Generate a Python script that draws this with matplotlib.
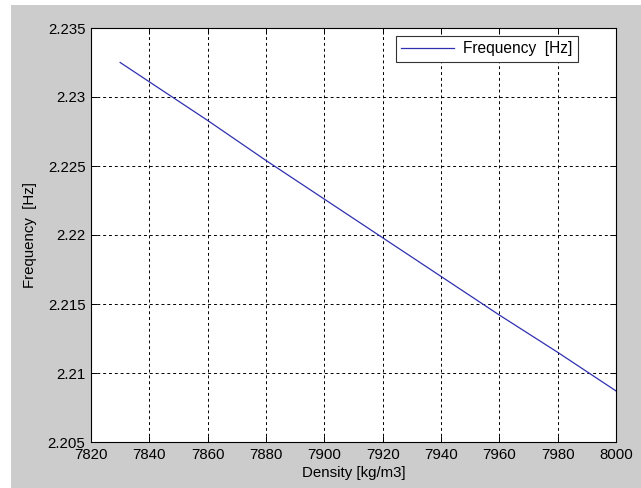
import matplotlib.pyplot as plt
from matplotlib.patches import Rectangle
from matplotlib.ticker import FixedLocator, FixedFormatter

# values
density = [7830, 7840, 7860, 7880, 7900, 7920, 7940, 7960, 7980, 8000]
frequency = [2.2325, 2.2311, 2.2283, 2.2254, 2.2226, 2.2198, 2.2170, 2.2142, 2.2115, 2.2087]

x_ticks = [7820, 7840, 7860, 7880, 7900, 7920, 7940, 7960, 7980, 8000]
y_ticks = [2.205, 2.21, 2.215, 2.22, 2.225, 2.23, 2.235]
y_tick_labels = ["2.205", "2.21", "2.215", "2.22", "2.225", "2.23", "2.235"]

plt.rcParams['font.family'] = ['Liberation Sans', 'DejaVu Sans']

W, H = 641, 488
fig = plt.figure(figsize=(W / 100, H / 100), dpi=100, facecolor='white')
# gray MATLAB-style figure area with a thin white margin
fig.patches.append(Rectangle((11 / W, 0), 1 - 11 / W, 1 - 5 / H,
                             transform=fig.transFigure, facecolor='#cccccc',
                             edgecolor='none', zorder=-10))

ax = fig.add_axes([91 / W, 46 / H, 525 / W, 414 / H])
ax.set_facecolor('white')

ax.plot(density, frequency, color='#3030b0', linewidth=0.9, label='Frequency  [Hz]')

ax.set_xlim(7820, 8000)
ax.set_ylim(2.205, 2.235)
ax.xaxis.set_major_locator(FixedLocator(x_ticks))
ax.yaxis.set_major_locator(FixedLocator(y_ticks))
ax.yaxis.set_major_formatter(FixedFormatter(y_tick_labels))

ax.tick_params(direction='in', top=True, right=True, length=4, width=0.7,
               labelsize=10.8, pad=4, colors='black')
for s in ax.spines.values():
    s.set_linewidth(0.8)
    s.set_color('black')

ax.grid(True, color='black', linestyle=(0, (3, 3)), linewidth=0.7)

ax.set_xlabel('Density [kg/m3]', fontsize=10.8, labelpad=3)
ax.set_ylabel('Frequency  [Hz]', fontsize=10.8, labelpad=8)

leg = ax.legend(loc='upper right', bbox_to_anchor=(578 / W, 1 - 36 / H),
                bbox_transform=fig.transFigure, borderaxespad=0,
                fancybox=False, framealpha=1, edgecolor='#333333',
                fontsize=11.2, handlelength=3.4, handletextpad=0.6,
                borderpad=0.35)
leg.get_frame().set_linewidth(0.8)

fig.savefig('out.png', dpi=100, facecolor=fig.get_facecolor())
